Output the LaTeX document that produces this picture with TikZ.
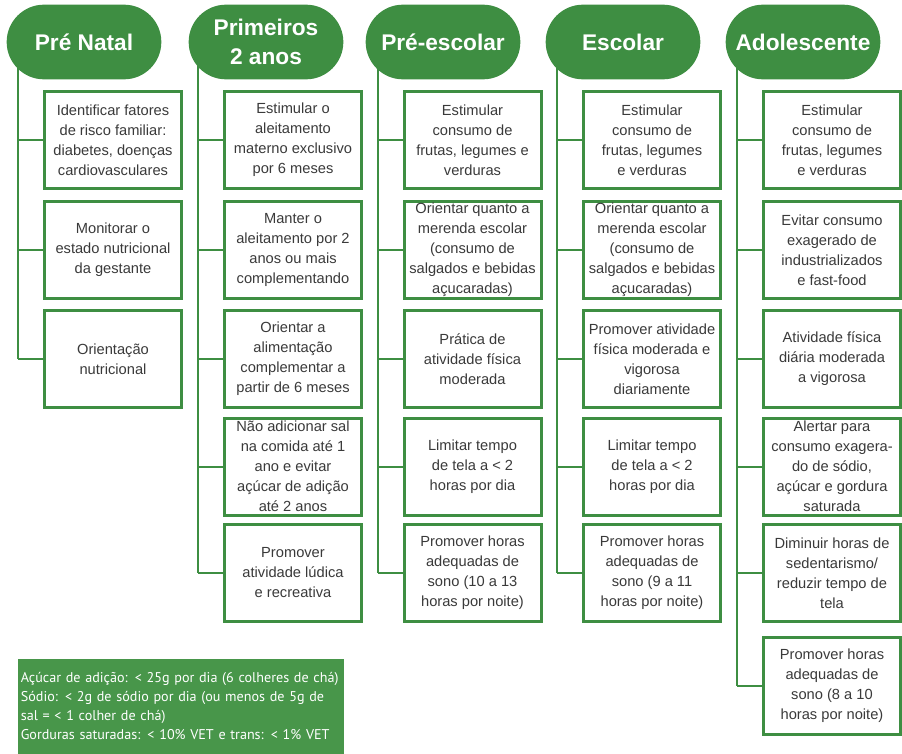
\documentclass[tikz,border=0pt]{standalone}
\usepackage{fontspec}
\setmainfont{Liberation Sans}
\newfontfamily\notafont{PT Sans}
\usetikzlibrary{shapes.misc,backgrounds}

\definecolor{verde}{RGB}{62,142,66}
\definecolor{verdenota}{RGB}{72,150,74}
\definecolor{cinza}{RGB}{58,58,58}

\tikzset{every picture/.style={line width=0.75pt}}
\tikzset{
  fase/.style={rounded rectangle, fill=verde, text=white, align=center, inner sep=0pt,
    minimum width=116pt, minimum height=56pt, font=\bfseries\fontsize{17}{22}\selectfont},
  acao/.style={rectangle, draw=verde, line width=2.25pt, fill=white, text=cinza, align=center,
    inner sep=0pt, minimum width=102.75pt, minimum height=72.75pt, font=\fontsize{11}{15}\selectfont},
  ramo/.style={draw=verde, line width=1.5pt},
  nota/.style={rectangle, fill=verdenota, text=white, align=left, anchor=north west,
    inner xsep=2.5pt, inner ysep=0pt, text width=240pt, minimum height=71.25pt,
    font=\notafont\fontsize{10.6}{14.25}\selectfont}
}

\begin{document}
\begin{tikzpicture}[x=0.75pt,y=0.75pt,yscale=-1,xscale=1]
\useasboundingbox (0,0) rectangle (902,753);

% Fases
\node[fase] (pn) at (84,42) {Pré Natal};
\node[fase] (pa) at (266,42) {Primeiros\\2 anos};
\node[fase] (pe) at (443,42) {Pré-escolar};
\node[fase] (es) at (623,42) {Escolar};
\node[fase] (ad) at (803,42) {Adolescente};

% Pré Natal
\node[acao] (pn1) at (113,140) {Identificar fatores\\de risco familiar:\\diabetes, doenças\\cardiovasculares};
\node[acao] (pn2) at (113,250) {Monitorar o\\estado nutricional\\da gestante};
\node[acao] (pn3) at (113,359) {Orientação\\nutricional};

% Primeiros 2 anos
\node[acao] (pa1) at (293,140) {Estimular o\\aleitamento\\materno exclusivo\\por 6 meses};
\node[acao] (pa2) at (293,250) {Manter o\\aleitamento por 2\\anos ou mais\\complementando};
\node[acao] (pa3) at (293,359) {Orientar a\\alimentação\\complementar a\\partir de 6 meses};
\node[acao] (pa4) at (293,466.5) {Não adicionar sal\\na comida até 1\\ano e evitar\\açúcar de adição\\até 2 anos};
\node[acao] (pa5) at (293,573) {Promover\\atividade lúdica\\e recreativa};

% Pré-escolar
\node[acao] (pe1) at (472.5,140) {Estimular\\consumo de\\frutas, legumes e\\verduras};
\node[acao] (pe2) at (472.5,250) {Orientar quanto a\\merenda escolar\\(consumo de\\salgados e bebidas\\açucaradas)};
\node[acao] (pe3) at (472.5,359) {Prática de\\atividade física\\moderada};
\node[acao] (pe4) at (472.5,466.5) {Limitar tempo\\de tela a < 2\\horas por dia};
\node[acao] (pe5) at (472.5,573) {Promover horas\\adequadas de\\sono (10 a 13\\horas por noite)};

% Escolar
\node[acao] (es1) at (652,140) {Estimular\\consumo de\\frutas, legumes\\e verduras};
\node[acao] (es2) at (652,250) {Orientar quanto a\\merenda escolar\\(consumo de\\salgados e bebidas\\açucaradas)};
\node[acao] (es3) at (652,359) {Promover atividade\\física moderada e\\vigorosa\\diariamente};
\node[acao] (es4) at (652,466.5) {Limitar tempo\\de tela a < 2\\horas por dia};
\node[acao] (es5) at (652,573) {Promover horas\\adequadas de\\sono (9 a 11\\horas por noite)};

% Adolescente
\node[acao] (ad1) at (832,140) {Estimular\\consumo de\\frutas, legumes\\e verduras};
\node[acao] (ad2) at (832,250) {Evitar consumo\\exagerado de\\industrializados\\e fast-food};
\node[acao] (ad3) at (832,359) {Atividade física\\diária moderada\\a vigorosa};
\node[acao] (ad4) at (832,466.5) {Alertar para\\consumo exagera-\\do de sódio,\\açúcar e gordura\\saturada};
\node[acao] (ad5) at (832,573) {Diminuir horas de\\sedentarismo/\\reduzir tempo de\\tela};
\node[acao] (ad6) at (832,686) {Promover horas\\adequadas de\\sono (8 a 10\\horas por noite)};

% Nota
\node[nota] (nota) at (17,658) {Açúcar de adição: < 25g por dia (6 colheres de chá)\\Sódio: < 2g de sódio por dia (ou menos de 5g de\\sal = < 1 colher de chá)\\Gorduras saturadas: < 10\% VET e trans: < 1\% VET};

% Ramos
\begin{pgfonlayer}{background}
\foreach \f/\n in {pn/3,pa/5,pe/5,es/5,ad/6}{
  \coordinate (t\f) at ([xshift=-18.75pt]\f1.west);
  \draw[ramo] (\f.center -| t\f) -- (t\f |- \f\n.west);
  \foreach \i in {1,...,\n}
    \draw[ramo] (t\f |- \f\i.west) -- (\f\i.west);
}
\end{pgfonlayer}

\end{tikzpicture}
\end{document}
